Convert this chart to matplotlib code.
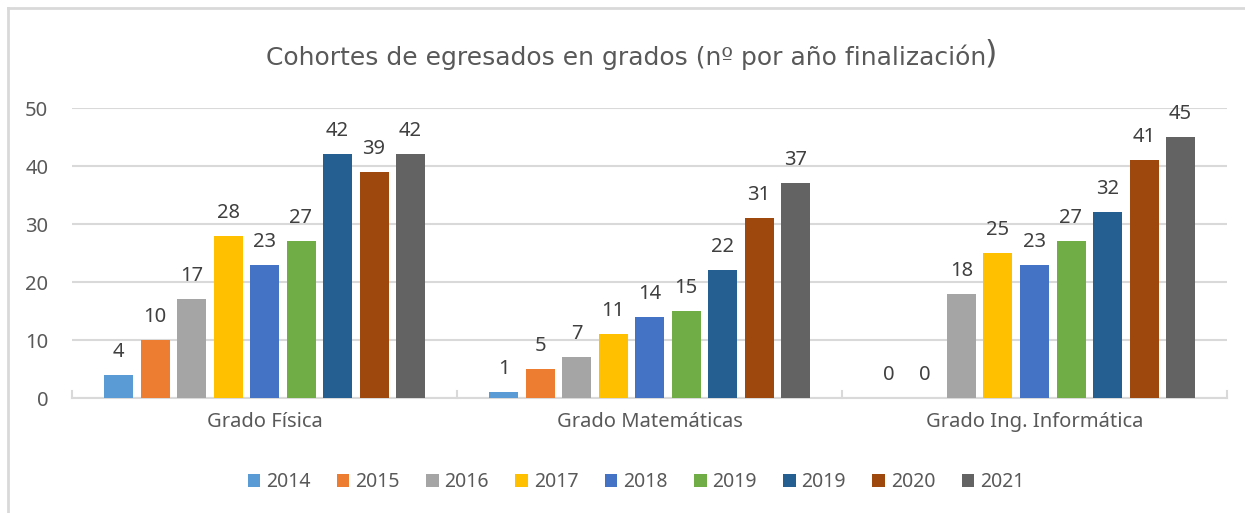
import numpy as np
import matplotlib.pyplot as plt
from matplotlib.lines import Line2D

# Data
categories = ["Grado Física", "Grado Matemáticas", "Grado Ing. Informática"]
years = ["2014", "2015", "2016", "2017", "2018", "2019", "2019", "2020", "2021"]
values = [
    [4, 1, 0],
    [10, 5, 0],
    [17, 7, 18],
    [28, 11, 25],
    [23, 14, 23],
    [27, 15, 27],
    [42, 22, 32],
    [39, 31, 41],
    [42, 37, 45],
]
colors = ["#5B9BD5", "#ED7D31", "#A5A5A5", "#FFC000", "#4472C4",
          "#70AD47", "#255E91", "#9E480E", "#636363"]

text_color = "#595959"
grid_color = "#D9D9D9"
num_font = "Noto Sans"

fig = plt.figure(figsize=(12.45, 5.13), dpi=100)
W, H = 1245, 513

# outer chart border (top and left visible)
fig.add_artist(Line2D([8 / W, 1], [1 - 8 / H, 1 - 8 / H], transform=fig.transFigure,
                      color=grid_color, lw=2))
fig.add_artist(Line2D([8 / W, 8 / W], [0, 1 - 8 / H], transform=fig.transFigure,
                      color=grid_color, lw=2))

ax = fig.add_axes([72 / W, 1 - 398 / H, (1227 - 72) / W, (398 - 108) / H])

x = np.arange(len(categories))
step = 36.5 / 385
width = 29 / 385
n = len(years)
for i, (yr, vals, c) in enumerate(zip(years, values, colors)):
    pos = x + (i - (n - 1) / 2) * step
    ax.bar(pos, vals, width, color=c, zorder=3, label=yr)
    for p, v in zip(pos, vals):
        ax.text(p, v + 3.1, str(v), ha="center", va="baseline", fontsize=14.5,
                color="#404040", family=num_font)

ax.set_xlim(-0.5, len(categories) - 0.5)
ax.set_ylim(0, 50)
ax.set_yticks(range(0, 51, 10))
ax.yaxis.grid(True, color=grid_color, lw=1.5, zorder=0)
ax.tick_params(axis="y", length=0, pad=17, labelsize=14.5, labelcolor=text_color)
for lab in ax.get_yticklabels():
    lab.set_family(num_font)

ax.set_xticks(x)
ax.set_xticklabels(categories, fontsize=14.5, color=text_color, family=num_font)
ax.tick_params(axis="x", length=0, pad=10)
# category boundary tick marks (pointing up)
for b in np.arange(-0.5, len(categories), 1.0):
    ax.plot([b, b], [0, 1.2], color=grid_color, lw=1.5, zorder=2, clip_on=False)

for s in ["top", "right", "left"]:
    ax.spines[s].set_visible(False)
ax.spines["bottom"].set_color(grid_color)
ax.spines["bottom"].set_linewidth(1.5)

title = fig.text(626 / W, 1 - 57 / H, "Cohortes de egresados en grados (nº por año finalización",
                 ha="center", va="center", fontsize=18, color=text_color,
                 family="DejaVu Sans")
ax.annotate(")", xy=(1, 0.5), xycoords=title, xytext=(-1, 2), textcoords="offset points",
            ha="left", va="center", fontsize=23, color=text_color, family="DejaVu Sans")

leg = fig.legend(loc="center", bbox_to_anchor=(636 / W, 1 - 482 / H), ncol=n,
                 frameon=False, handlelength=0.65, handleheight=0.65, handletextpad=0.3,
                 columnspacing=1.35, prop={"family": num_font, "size": 14})
for t in leg.get_texts():
    t.set_color(text_color)

fig.savefig("out.png", dpi=100, facecolor="white")
